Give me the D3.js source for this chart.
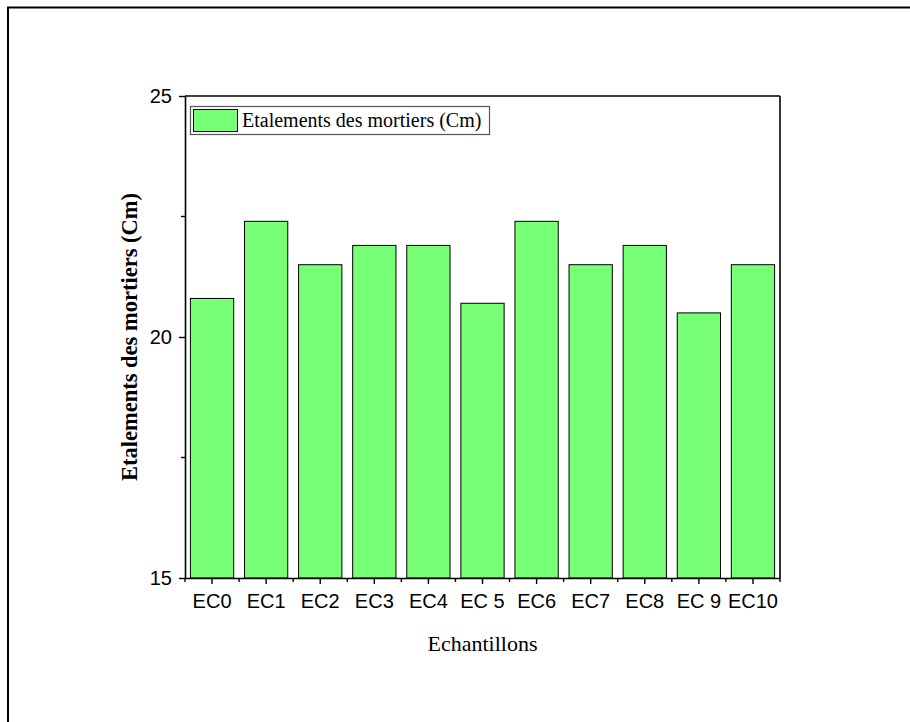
<!DOCTYPE html>
<html>
<head>
<meta charset="utf-8">
<script src="https://cdn.jsdelivr.net/npm/d3@7"></script>
<style>
  body { margin: 0; background: #fff; }
</style>
</head>
<body>
<div id="chart"></div>
<script>
var categories = ["EC0", "EC1", "EC2", "EC3", "EC4", "EC 5", "EC6", "EC7", "EC8", "EC 9", "EC10"];
var values = [20.8, 22.4, 21.5, 21.9, 21.9, 20.7, 22.4, 21.5, 21.9, 20.5, 21.5];
var yTicks = [15, 20, 25];
var yMinor = [17.5, 22.5];
var seriesName = "Etalements des mortiers (Cm)";

var width = 910, height = 722;
var margin = { top: 96, right: 130, bottom: 144, left: 185 };

var svg = d3.select("#chart")
            .append("svg")
            .attr("width", width)
            .attr("height", height);

// outer frame
svg.append("rect")
   .attr("x", 8)
   .attr("y", 7.5)
   .attr("width", 920)
   .attr("height", 740)
   .attr("fill", "none")
   .attr("stroke", "#000")
   .attr("stroke-width", 2);

var x = d3.scaleBand()
          .domain(categories)
          .range([margin.left, width - margin.right])
          .paddingInner(0.2)
          .paddingOuter(0.1);

var y = d3.scaleLinear()
          .domain([15, 25])
          .range([height - margin.bottom, margin.top]);

var bottom = height - margin.bottom;

// bars
svg.selectAll("rect.bar")
   .data(values)
   .enter()
   .append("rect")
   .attr("class", "bar")
   .attr("x", function (d, i) { return x(categories[i]); })
   .attr("y", function (d) { return y(d); })
   .attr("width", x.bandwidth())
   .attr("height", function (d) { return bottom - y(d); })
   .attr("fill", "#77ff77")
   .attr("stroke", "#000")
   .attr("stroke-width", 1);

// x axis
var xAxis = svg.append("g")
   .attr("transform", "translate(0," + bottom + ")")
   .call(d3.axisBottom(x).tickSize(6).tickSizeOuter(0));
xAxis.select(".domain").attr("stroke-width", 1.6);
xAxis.selectAll(".tick line").attr("stroke-width", 1.4);
xAxis.selectAll(".tick text")
     .attr("font-family", "Liberation Sans, Arial, sans-serif")
     .attr("font-size", 20)
     .attr("fill", "#000")
     .attr("y", 12)
     .attr("dy", "0.9em");

// minor x ticks at band boundaries
var step = x.step();
var bounds = categories.map(function (c) { return x(c) - step * x.paddingInner() / 2; });
bounds.push(x(categories[categories.length - 1]) + x.bandwidth() + step * x.paddingInner() / 2);
svg.selectAll("line.xminor")
   .data(bounds)
   .enter()
   .append("line")
   .attr("x1", function (d) { return d; })
   .attr("x2", function (d) { return d; })
   .attr("y1", bottom)
   .attr("y2", bottom + 4)
   .attr("stroke", "#000")
   .attr("stroke-width", 1.4);

// y axis
var yAxis = svg.append("g")
   .attr("transform", "translate(" + margin.left + ",0)")
   .call(d3.axisLeft(y).tickValues(yTicks).tickSize(6).tickSizeOuter(0));
yAxis.select(".domain").attr("stroke-width", 1.6);
yAxis.selectAll(".tick line").attr("stroke-width", 1.4);
yAxis.selectAll(".tick text")
     .attr("font-family", "Liberation Sans, Arial, sans-serif")
     .attr("font-size", 20)
     .attr("fill", "#000")
     .attr("x", -13);

svg.selectAll("line.yminor")
   .data(yMinor)
   .enter()
   .append("line")
   .attr("x1", margin.left)
   .attr("x2", margin.left - 4)
   .attr("y1", function (d) { return y(d); })
   .attr("y2", function (d) { return y(d); })
   .attr("stroke", "#000")
   .attr("stroke-width", 1.4);

// top and right frame
svg.append("line")
   .attr("x1", margin.left).attr("x2", width - margin.right)
   .attr("y1", margin.top).attr("y2", margin.top)
   .attr("stroke", "#000").attr("stroke-width", 1.6);
svg.append("line")
   .attr("x1", width - margin.right).attr("x2", width - margin.right)
   .attr("y1", margin.top).attr("y2", bottom)
   .attr("stroke", "#000").attr("stroke-width", 1.6);

// axis titles
svg.append("text")
   .attr("x", (margin.left + width - margin.right) / 2)
   .attr("y", 651)
   .attr("text-anchor", "middle")
   .attr("font-family", "Liberation Serif, Times New Roman, serif")
   .attr("font-size", 22)
   .text("Echantillons");

svg.append("text")
   .attr("transform", "translate(137," + ((margin.top + bottom) / 2) + ") rotate(-90)")
   .attr("text-anchor", "middle")
   .attr("font-family", "Liberation Serif, Times New Roman, serif")
   .attr("font-size", 22.5)
   .attr("font-weight", "bold")
   .text("Etalements des mortiers (Cm)");

// legend
var legend = svg.append("g");
legend.append("rect")
      .attr("x", 190.5)
      .attr("y", 106.5)
      .attr("width", 299)
      .attr("height", 28)
      .attr("fill", "#fff")
      .attr("stroke", "#555")
      .attr("stroke-width", 1.2);
legend.append("rect")
      .attr("x", 193.5)
      .attr("y", 109.5)
      .attr("width", 44)
      .attr("height", 22)
      .attr("fill", "#77ff77")
      .attr("stroke", "#000");
legend.append("text")
      .attr("x", 242)
      .attr("y", 127)
      .attr("font-family", "Liberation Serif, Times New Roman, serif")
      .attr("font-size", 20)
      .text(seriesName);
</script>
</body>
</html>
